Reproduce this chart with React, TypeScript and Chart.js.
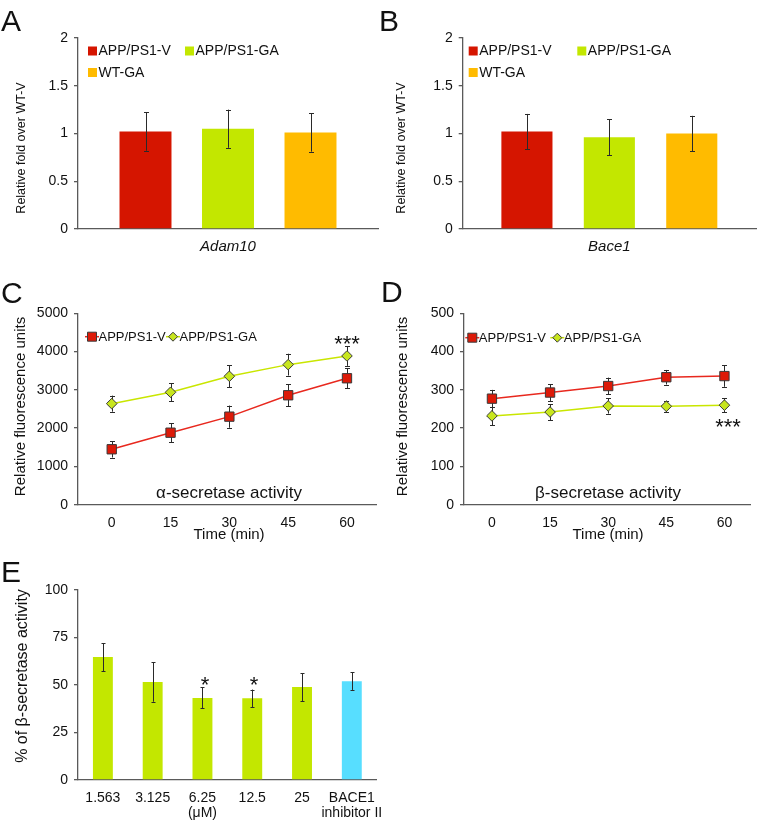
import React, { useEffect, useRef } from 'react';
import { Chart, registerables } from 'chart.js';

Chart.register(...registerables);

const FONT = "'Liberation Sans', Arial, Helvetica, sans-serif";
const W = 758;
const H = 827;

// ---------- DATA ----------
const barSeries = ['APP/PS1-V', 'APP/PS1-GA', 'WT-GA'];
const aCategories = ['Adam10'];
const aValues = [1.02, 1.05, 1.01];
const aErrors = [0.2, 0.2, 0.2];
const bCategories = ['Bace1'];
const bValues = [1.02, 0.96, 1.0];
const bErrors = [0.185, 0.19, 0.185];
const foldTicks = [0, 0.5, 1, 1.5, 2];

const lineSeries = ['APP/PS1-V', 'APP/PS1-GA'];
const timePoints = [0, 15, 30, 45, 60];
const cVehicle = [1448, 1881, 2300, 2859, 3303];
const cVehicleErr = [215, 250, 290, 290, 265];
const cGA = [2640, 2937, 3355, 3659, 3886];
const cGAErr = [210, 230, 290, 285, 260];
const cTicks = [0, 1000, 2000, 3000, 4000, 5000];

const dVehicle = [277, 293, 310, 333, 336];
const dVehicleErr = [23, 22, 22, 19, 28];
const dGA = [232, 242, 258, 257, 260];
const dGAErr = [24, 21, 20, 15, 18];
const dTicks = [0, 100, 200, 300, 400, 500];

const eCategories: (string | string[])[] = ['1.563', '3.125', ['6.25', '(μM)'], '12.5', '25', ['BACE1', 'inhibitor II']];
const eValues = [64.7, 51.6, 43.2, 43.0, 48.9, 52.0];
const eErrors = [7.4, 10.4, 5.5, 4.6, 7.4, 4.6];
const eTicks = [0, 25, 50, 75, 100];

// ---------- STYLE ----------
const RED = '#D51500';
const GREEN = '#C3E700';
const ORANGE = '#FFBB00';
const CYAN = '#57DEFF';
const RED_LINE = '#E8281E';
const GREEN_LINE = '#C9E600';
const RED_MARK = '#DD1A08';
const GREEN_MARK = '#C8E61E';
const MARK_BORDER = '#3a3a3a';
const AXIS = '#5a5a5a';
const TEXT = '#111';

type TextItem = {
  t: string; x: number; y: number; size: number; rot?: number;
  align?: CanvasTextAlign; italic?: boolean; base?: CanvasTextBaseline;
};
type LegendItem = { kind: 'box' | 'rect' | 'diamond'; x: number; y: number; label: string; fill: string; line?: string };
type Area = { left: number; top: number; right: number; bottom: number };

function drawErrors(chart: any, errors: number[][], cap: number) {
  const ctx = chart.ctx;
  const ys = chart.scales.y;
  ctx.save();
  ctx.strokeStyle = '#2a2a2a';
  ctx.lineWidth = 1;
  chart.data.datasets.forEach((ds: any, i: number) => {
    const e = errors[i];
    if (!e) return;
    const meta = chart.getDatasetMeta(i);
    meta.data.forEach((el: any, j: number) => {
      const raw = ds.data[j];
      const v = typeof raw === 'number' ? raw : raw.y;
      const x = Math.round(el.x) + 0.5;
      const y1 = ys.getPixelForValue(v + e[j]);
      const y2 = ys.getPixelForValue(v - e[j]);
      ctx.beginPath();
      ctx.moveTo(x, y1);
      ctx.lineTo(x, y2);
      ctx.moveTo(x - cap / 2, Math.round(y1) + 0.5);
      ctx.lineTo(x + cap / 2, Math.round(y1) + 0.5);
      ctx.moveTo(x - cap / 2, Math.round(y2) + 0.5);
      ctx.lineTo(x + cap / 2, Math.round(y2) + 0.5);
      ctx.stroke();
    });
  });
  ctx.restore();
}

function drawLegend(ctx: CanvasRenderingContext2D, items: LegendItem[]) {
  ctx.save();
  ctx.textBaseline = 'middle';
  ctx.textAlign = 'left';
  items.forEach((it) => {
    if (it.kind === 'box') {
      ctx.font = `14px ${FONT}`;
      ctx.fillStyle = it.fill;
      ctx.fillRect(it.x, it.y - 4.5, 9, 9);
      ctx.fillStyle = TEXT;
      ctx.fillText(it.label, it.x + 10.5, it.y + 0.5);
    } else {
      ctx.font = `13px ${FONT}`;
      ctx.strokeStyle = it.line || it.fill;
      ctx.lineWidth = 1.5;
      ctx.beginPath();
      ctx.moveTo(it.x - 7, it.y);
      ctx.lineTo(it.x + 7, it.y);
      ctx.stroke();
      ctx.fillStyle = it.fill;
      ctx.strokeStyle = MARK_BORDER;
      ctx.lineWidth = 1;
      ctx.beginPath();
      if (it.kind === 'rect') {
        ctx.rect(it.x - 4.5, it.y - 4.5, 9, 9);
      } else {
        ctx.moveTo(it.x - 4.5, it.y);
        ctx.lineTo(it.x, it.y - 4.5);
        ctx.lineTo(it.x + 4.5, it.y);
        ctx.lineTo(it.x, it.y + 4.5);
        ctx.closePath();
      }
      ctx.fill();
      ctx.stroke();
      ctx.fillStyle = TEXT;
      ctx.fillText(it.label, it.x + 6.5, it.y + 0.5);
    }
  });
  ctx.restore();
}

function drawTexts(ctx: CanvasRenderingContext2D, texts: TextItem[]) {
  texts.forEach((t) => {
    ctx.save();
    ctx.fillStyle = TEXT;
    ctx.font = `${t.italic ? 'italic ' : ''}${t.size}px ${FONT}`;
    ctx.textAlign = t.align || 'center';
    ctx.textBaseline = t.base || 'middle';
    ctx.translate(t.x, t.y);
    if (t.rot) ctx.rotate(t.rot);
    ctx.fillText(t.t, 0, 0);
    ctx.restore();
  });
}

function overlay(texts: TextItem[], legend: LegendItem[], errors: number[][], cap: number, behind: boolean) {
  return {
    id: 'overlay',
    beforeDatasetsDraw(chart: any) {
      if (behind) drawErrors(chart, errors, cap);
    },
    afterDatasetsDraw(chart: any) {
      if (!behind) drawErrors(chart, errors, cap);
    },
    afterDraw(chart: any) {
      drawLegend(chart.ctx, legend);
      drawTexts(chart.ctx, texts);
    },
  };
}

const Y_W = 70;
const X_H = 40;

function layoutFor(a: Area) {
  return {
    padding: {
      left: a.left - Y_W,
      top: a.top,
      right: W - a.right,
      bottom: H - a.bottom - X_H,
    },
  };
}

function yAxis(min: number, max: number, ticks: number[]) {
  return {
    type: 'linear',
    min,
    max,
    afterBuildTicks: (s: any) => {
      s.ticks = ticks.map((v) => ({ value: v }));
    },
    afterFit: (s: any) => {
      s.width = Y_W;
    },
    grid: { display: true, drawOnChartArea: false, drawTicks: true, tickLength: 4, color: AXIS, lineWidth: 1.3 },
    border: { display: true, color: AXIS, width: 1.3 },
    ticks: {
      padding: 6,
      color: TEXT,
      font: { family: FONT, size: 14 },
      callback: (v: any) => String(v),
    },
    title: { display: false },
  };
}

function xCategory(italic: boolean, size: number, padding: number, lineHeight: number) {
  return {
    type: 'category',
    afterFit: (s: any) => {
      s.height = X_H;
    },
    grid: { display: false, drawTicks: false },
    border: { display: true, color: AXIS, width: 1.3 },
    ticks: {
      padding,
      color: TEXT,
      maxRotation: 0,
      autoSkip: false,
      font: { family: FONT, size, style: italic ? 'italic' : 'normal', lineHeight },
    },
  };
}

function xLinear(min: number, max: number) {
  return {
    type: 'linear',
    min,
    max,
    afterBuildTicks: (s: any) => {
      s.ticks = timePoints.map((v) => ({ value: v }));
    },
    afterFit: (s: any) => {
      s.height = X_H;
    },
    grid: { display: false, drawTicks: false },
    border: { display: true, color: AXIS, width: 1.3 },
    ticks: {
      padding: 10,
      color: TEXT,
      maxRotation: 0,
      font: { family: FONT, size: 14, lineHeight: 1.2 },
      callback: (v: any) => String(v),
    },
  };
}

const baseOptions = {
  responsive: false,
  animation: false,
  events: [],
};

function barFoldConfig(area: Area, cats: string[], values: number[], errors: number[], cp: number, bp: number, texts: TextItem[], legend: LegendItem[]) {
  const colors = [RED, GREEN, ORANGE];
  return {
    type: 'bar',
    data: {
      labels: cats,
      datasets: barSeries.map((name, i) => ({
        label: name,
        data: [values[i]],
        backgroundColor: colors[i],
        borderWidth: 0,
        categoryPercentage: cp,
        barPercentage: bp,
      })),
    },
    options: {
      ...baseOptions,
      layout: layoutFor(area),
      plugins: { legend: { display: false }, tooltip: { enabled: false } },
      scales: {
        x: xCategory(true, 15, 9, 1.2),
        y: yAxis(0, 2, foldTicks),
      },
    },
    plugins: [overlay(texts, legend, errors.map((e) => [e]), 5, false)],
  };
}

function lineConfig(area: Area, xmin: number, xmax: number, v: number[], ve: number[], g: number[], ge: number[], ymax: number, ticks: number[], texts: TextItem[], legend: LegendItem[]) {
  return {
    type: 'line',
    data: {
      datasets: [
        {
          label: lineSeries[0],
          data: timePoints.map((t, i) => ({ x: t, y: v[i] })),
          borderColor: RED_LINE,
          borderWidth: 1.5,
          pointStyle: 'rect',
          pointRadius: 6.6,
          pointBackgroundColor: RED_MARK,
          pointBorderColor: MARK_BORDER,
          pointBorderWidth: 1,
        },
        {
          label: lineSeries[1],
          data: timePoints.map((t, i) => ({ x: t, y: g[i] })),
          borderColor: GREEN_LINE,
          borderWidth: 1.5,
          pointStyle: 'rectRot',
          pointRadius: 5.3,
          pointBackgroundColor: GREEN_MARK,
          pointBorderColor: MARK_BORDER,
          pointBorderWidth: 1,
        },
      ],
    },
    options: {
      ...baseOptions,
      layout: layoutFor(area),
      plugins: { legend: { display: false }, tooltip: { enabled: false } },
      scales: {
        x: xLinear(xmin, xmax),
        y: yAxis(0, ymax, ticks),
      },
    },
    plugins: [overlay(texts, legend, [ve, ge], 5, true)],
  };
}

function star(t: string, x: number, cy: number): TextItem {
  const size = 22;
  return { t, x, y: cy + 0.575 * size, size, base: 'alphabetic' };
}

const ROT = -Math.PI / 2;

const areaA: Area = { left: 78, top: 38, right: 378, bottom: 229 };
const areaB: Area = { left: 462.7, top: 38, right: 756, bottom: 229 };
const areaC: Area = { left: 78, top: 313.3, right: 376, bottom: 504.7 };
const areaD: Area = { left: 464, top: 313.3, right: 754, bottom: 504.7 };
const areaE: Area = { left: 78, top: 590, right: 376.7, bottom: 780 };

const configA = barFoldConfig(
  areaA, aCategories, aValues, aErrors, 0.825, 0.63,
  [
    { t: 'A', x: 1, y: 31, size: 30, align: 'left', base: 'alphabetic' },
    { t: 'Relative fold over WT-V', x: 22, y: 148, size: 12.5, rot: ROT },
  ],
  [
    { kind: 'box', x: 88, y: 51, label: barSeries[0], fill: RED },
    { kind: 'box', x: 185, y: 51, label: barSeries[1], fill: GREEN },
    { kind: 'box', x: 88, y: 72.5, label: barSeries[2], fill: ORANGE },
  ],
);

const configB = barFoldConfig(
  areaB, bCategories, bValues, bErrors, 0.843, 0.62,
  [
    { t: 'B', x: 379, y: 31, size: 30, align: 'left', base: 'alphabetic' },
    { t: 'Relative fold over WT-V', x: 402, y: 148, size: 12.5, rot: ROT },
  ],
  [
    { kind: 'box', x: 468.7, y: 51, label: barSeries[0], fill: RED },
    { kind: 'box', x: 577.3, y: 51, label: barSeries[1], fill: GREEN },
    { kind: 'box', x: 468.7, y: 72.5, label: barSeries[2], fill: ORANGE },
  ],
);

const configC = lineConfig(
  areaC, -8.6, 67.4, cVehicle, cVehicleErr, cGA, cGAErr, 5000, cTicks,
  [
    { t: 'C', x: 1, y: 302.5, size: 30, align: 'left', base: 'alphabetic' },
    { t: 'Relative fluorescence units', x: 21, y: 406.5, size: 15, rot: ROT },
    { t: 'α-secretase activity', x: 229, y: 493, size: 17 },
    { t: 'Time (min)', x: 229, y: 535, size: 15 },
    star('***', 347, 338.8),
  ],
  [
    { kind: 'rect', x: 92, y: 336.7, label: lineSeries[0], fill: RED_MARK, line: RED_LINE },
    { kind: 'diamond', x: 173, y: 336.7, label: lineSeries[1], fill: GREEN_MARK, line: GREEN_LINE },
  ],
);

const configD = lineConfig(
  areaD, -7.21, 66.7, dVehicle, dVehicleErr, dGA, dGAErr, 500, dTicks,
  [
    { t: 'D', x: 381, y: 302, size: 30, align: 'left', base: 'alphabetic' },
    { t: 'Relative fluorescence units', x: 403, y: 406.5, size: 15, rot: ROT },
    { t: 'β-secretase activity', x: 608, y: 493, size: 17 },
    { t: 'Time (min)', x: 608, y: 535, size: 15 },
    star('***', 728, 421.7),
  ],
  [
    { kind: 'rect', x: 472.3, y: 337.7, label: lineSeries[0], fill: RED_MARK, line: RED_LINE },
    { kind: 'diamond', x: 557.3, y: 337.7, label: lineSeries[1], fill: GREEN_MARK, line: GREEN_LINE },
  ],
);

const configE = {
  type: 'bar',
  data: {
    labels: eCategories,
    datasets: [
      {
        label: '% of β-secretase activity',
        data: eValues,
        backgroundColor: eValues.map((_, i) => (i === eValues.length - 1 ? CYAN : GREEN)),
        borderWidth: 0,
        categoryPercentage: 1,
        barPercentage: 0.4,
      },
    ],
  },
  options: {
    ...baseOptions,
    layout: layoutFor(areaE),
    plugins: { legend: { display: false }, tooltip: { enabled: false } },
    scales: {
      x: xCategory(false, 14, 10, 1.1),
      y: yAxis(0, 100, eTicks),
    },
  },
  plugins: [
    overlay(
      [
        { t: 'E', x: 1, y: 581.7, size: 30, align: 'left', base: 'alphabetic' },
        { t: '% of β-secretase activity', x: 22.5, y: 676, size: 16, rot: ROT },
        star('*', 205, 679),
        star('*', 254, 679),
      ],
      [],
      [eErrors],
      4,
      false,
    ),
  ],
};

function Panel({ config }: { config: any }) {
  const ref = useRef<HTMLCanvasElement | null>(null);
  useEffect(() => {
    if (!ref.current) return;
    const chart = new Chart(ref.current, config);
    return () => chart.destroy();
  }, [config]);
  return (
    <canvas
      ref={ref}
      width={W}
      height={H}
      style={{ position: 'absolute', left: 0, top: 0, width: W, height: H }}
    />
  );
}

export default function App() {
  return (
    <div
      style={{
        position: 'absolute',
        left: 0,
        top: 0,
        width: W,
        height: H,
        overflow: 'hidden',
        background: '#ffffff',
      }}
    >
      <Panel config={configA} />
      <Panel config={configB} />
      <Panel config={configC} />
      <Panel config={configD} />
      <Panel config={configE} />
    </div>
  );
}
